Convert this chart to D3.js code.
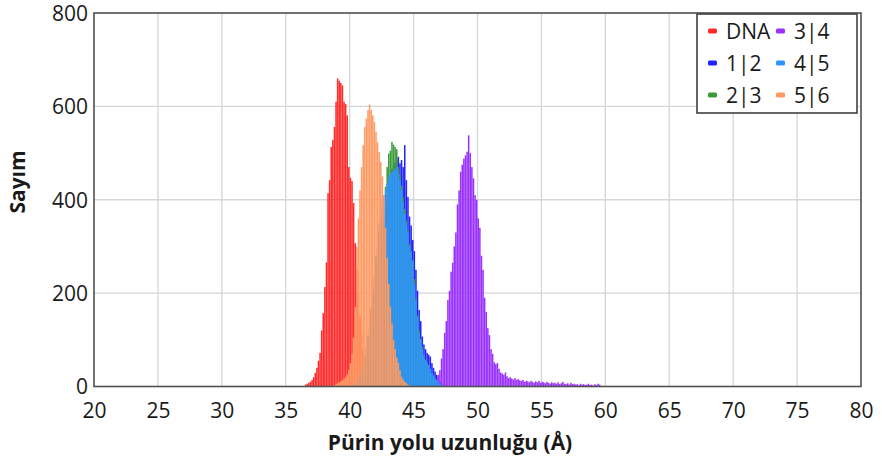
<!DOCTYPE html>
<html>
<head>
<meta charset="utf-8">
<script src="https://cdn.jsdelivr.net/npm/d3@7"></script>
<style>
  html, body { margin: 0; padding: 0; background: #fff; }
  svg { display: block; font-family: "Open Sans", "Liberation Sans", sans-serif; }
</style>
</head>
<body>
<svg id="chart" width="882" height="463"></svg>
<script>
// Histogram bin width (Å) shared by every series
const binWidth = 0.125;

// Series labels, in drawing / legend order
const seriesNames = ["DNA", "1|2", "2|3", "3|4", "4|5", "5|6"];

// Left edge (Å) of the first bin of each series
const binStarts = [36.5, 40.5, 40.25, 46.5, 40.25, 38.75];

// Counts per bin
const dnaCounts = [4,6,8,10,14,20,29,40,55,72,120,157,213,266,414,442,513,528,556,610,660,655,650,645,610,605,581,470,447,440,393,307,250,200,150,110,80,55,35,22,12,6,3];
const counts12 = [4,7,11,16,24,34,46,62,82,105,135,165,200,235,270,300,330,360,385,410,430,450,465,475,480,488,492,478,485,470,517,442,406,364,345,314,290,250,205,164,140,107,90,80,72,68,64,50,40,32,25,18,10,5,2];
const counts23 = [4,7,11,16,24,34,46,62,82,105,135,165,200,235,270,300,330,355,365,375,428,470,499,505,524,518,513,508,470,455,430,405,380,355,335,305,290,265,230,190,152,120,102,85,68,58,52,44,36,28,22,16,12,8,5,2];
const counts34 = [4,8,15,25,35,60,80,115,140,185,205,246,265,300,330,390,420,460,475,488,495,503,538,500,470,446,410,400,360,340,280,250,190,160,125,110,80,70,52,48,50,38,30,28,25,30,22,18,20,17,15,18,14,16,13,12,14,10,12,11,9,12,10,8,11,9,12,8,10,9,7,10,8,6,9,7,8,6,9,5,7,10,6,5,7,4,8,5,6,4,5,3,6,4,5,3,4,6,3,4,2,5,3,6,4];
const counts45 = [5,8,12,18,25,35,48,65,85,110,140,170,205,240,280,320,350,380,400,410,421,435,449,456,460,463,466,470,456,442,420,395,371,350,330,300,290,270,221,185,150,114,100,80,66,57,52,46,38,29,24,18,14,10,6,3];
const counts56 = [3,5,7,9,11,13,16,20,26,36,50,70,105,170,300,360,420,470,517,556,574,592,604,592,581,567,546,523,502,481,450,410,340,275,220,171,135,100,80,62,50,35,21,15,10,7,4,2];

const seriesCounts = [dnaCounts, counts12, counts23, counts34, counts45, counts56];

// Axis ticks
const xTicks = [20,25,30,35,40,45,50,55,60,65,70,75,80];
const yTicks = [0,200,400,600,800];

const xTitle = "Pürin yolu uzunluğu (Å)";
const yTitle = "Sayım";

// Styling
const colors = ["#ff2b2b", "#2323ff", "#3c9a3c", "#9a30ff", "#2f95ff", "#ff9a62"];

const svg = d3.select("#chart");
const plot = { left: 94, right: 861, top: 13, bottom: 386.5 };

const x = d3.scaleLinear().domain([20, 80]).range([plot.left, plot.right]);
const y = d3.scaleLinear().domain([0, 800]).range([plot.bottom, plot.top]);

// Grid
const grid = svg.append("g").attr("class", "grid");
grid.selectAll("line.gx").data(xTicks.slice(1, -1)).join("line")
  .attr("x1", d => x(d)).attr("x2", d => x(d))
  .attr("y1", plot.top).attr("y2", plot.bottom)
  .attr("stroke", "#d6d6d6").attr("stroke-width", 1.3);
grid.selectAll("line.gy").data(yTicks.slice(1, -1)).join("line")
  .attr("x1", plot.left).attr("x2", plot.right)
  .attr("y1", d => y(d)).attr("y2", d => y(d))
  .attr("stroke", "#d6d6d6").attr("stroke-width", 1.3);

// Histogram bars
const bars = svg.append("g").attr("class", "bars");
seriesNames.forEach((name, s) => {
  const bins = seriesCounts[s].map((c, i) => ({ x0: binStarts[s] + i * binWidth, count: c }));
  bars.append("g")
    .selectAll("rect").data(bins).join("rect")
    .attr("x", d => x(d.x0))
    .attr("width", d => x(d.x0 + binWidth) - x(d.x0) - 0.08)
    .attr("y", d => y(d.count))
    .attr("height", d => y(0) - y(d.count))
    .attr("fill", colors[s]);
});

// Axes (labels only, no tick marks)
const xAxis = d3.axisBottom(x).tickValues(xTicks).tickSize(0).tickPadding(0).tickFormat(d3.format("d"));
const gx = svg.append("g").attr("transform", `translate(0,${plot.bottom})`).call(xAxis);
gx.select(".domain").remove();
gx.selectAll("text").attr("y", 0).attr("dy", null)
  .attr("transform", "translate(0,31)")
  .attr("font-size", 21).attr("fill", "#1a1a1a").attr("font-family", "Open Sans");

const yAxis = d3.axisLeft(y).tickValues(yTicks).tickSize(0).tickPadding(0).tickFormat(d3.format("d"));
const gy = svg.append("g").attr("transform", `translate(${plot.left},0)`).call(yAxis);
gy.select(".domain").remove();
gy.selectAll("text").attr("x", -6).attr("dy", "0.35em")
  .attr("font-size", 21).attr("fill", "#1a1a1a").attr("font-family", "Open Sans");

// Plot frame
svg.append("rect")
  .attr("x", plot.left).attr("y", plot.top)
  .attr("width", plot.right - plot.left).attr("height", plot.bottom - plot.top)
  .attr("fill", "none").attr("stroke", "#505050").attr("stroke-width", 1.6);

// Axis titles
svg.append("text")
  .attr("x", 450).attr("y", 450)
  .attr("text-anchor", "middle")
  .attr("font-size", 21).attr("font-weight", "bold").attr("fill", "#1a1a1a")
  .text(xTitle);

svg.append("text")
  .attr("transform", "translate(25,182) rotate(-90)")
  .attr("text-anchor", "middle")
  .attr("font-size", 21).attr("font-weight", "bold").attr("fill", "#1a1a1a")
  .text(yTitle);

// Legend
const legend = svg.append("g").attr("class", "legend");
legend.append("rect")
  .attr("x", 697).attr("y", 14).attr("width", 160).attr("height", 99)
  .attr("fill", "#fff").attr("stroke", "#404040").attr("stroke-width", 1.6);

seriesNames.forEach((name, s) => {
  const col = Math.floor(s / 3), row = s % 3;
  const mx = col === 0 ? 708 : 776;
  const cy = 31 + row * 32;
  const item = legend.append("g");
  item.append("rect")
    .attr("x", mx).attr("y", cy - 2.5).attr("width", 9).attr("height", 5).attr("rx", 1.5)
    .attr("fill", colors[s]);
  item.append("text")
    .attr("x", mx + 18).attr("y", cy).attr("dy", "0.36em")
    .attr("font-size", 21).attr("fill", "#1a1a1a")
    .text(name);
});
</script>
</body>
</html>
